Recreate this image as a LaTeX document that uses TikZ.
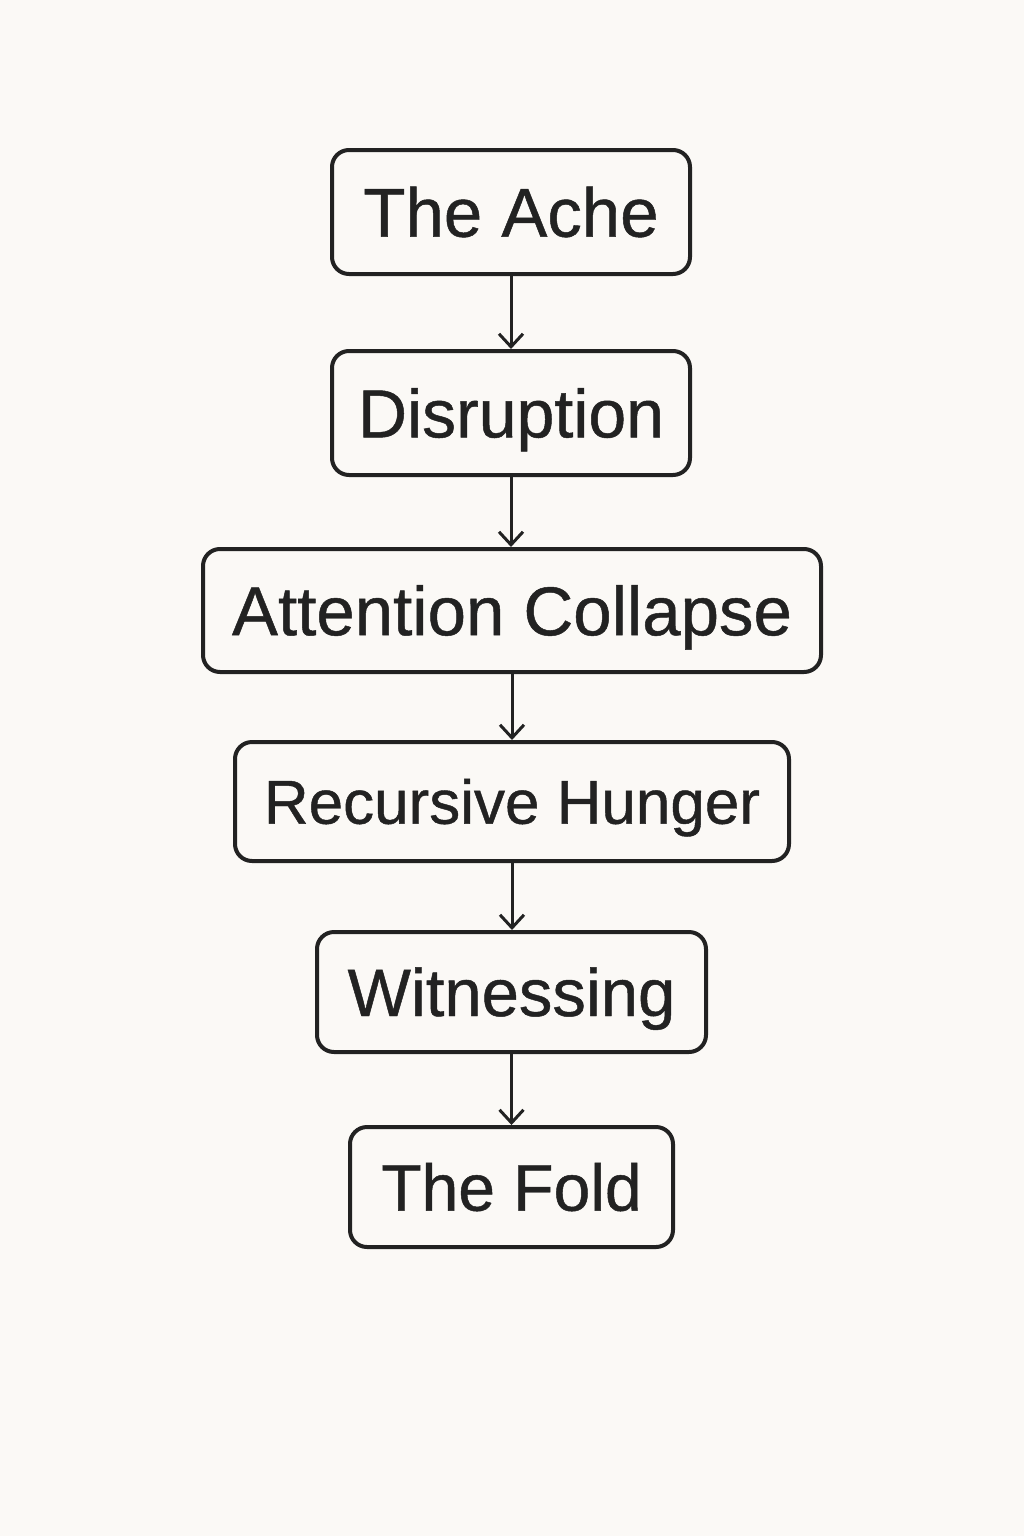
\documentclass[tikz,border=0pt]{standalone}
\usepackage{fontspec}
\setmainfont{Liberation Sans}
\newfontfamily\boxfont[FakeBold=0.7]{Liberation Sans}
\usetikzlibrary{arrows.meta}
\definecolor{bg}{HTML}{FBF9F6}
\definecolor{ink}{HTML}{222222}
\tikzset{
  box/.style={draw=ink, line width=4pt, rounded corners=17pt, fill=bg,
    text=ink, align=center, inner sep=0pt, text depth=0pt},
  flow/.style={draw=ink, line width=3pt,
    -{Straight Barb[length=13pt,width=24pt,line width=3pt]}}
}
\begin{document}
\begin{tikzpicture}[x=1pt,y=-1pt]
\fill[bg] (0,0) rectangle (1024,1536);
\useasboundingbox (0,0) rectangle (1024,1536);
\node[box, minimum width=358pt, minimum height=124pt, text height=49.4pt, font=\fontsize{69}{80}\selectfont\boxfont] (ache) at (511,212) {The Ache};
\node[box, minimum width=358pt, minimum height=124pt, text height=48.7pt, font=\fontsize{68}{80}\selectfont\boxfont] (dis) at (511,413) {Disruption};
\node[box, minimum width=618pt, minimum height=123pt, text height=49.4pt, font=\fontsize{69}{80}\selectfont\boxfont] (att) at (512,610.5) {Attention Collapse};
\node[box, minimum width=554pt, minimum height=119pt, text height=44.4pt, font=\fontsize{62}{74}\selectfont\boxfont] (rec) at (512,801.5) {Recursive Hunger};
\node[box, minimum width=389pt, minimum height=120pt, text height=48pt, font=\fontsize{67}{80}\selectfont\boxfont] (wit) at (511.5,992) {Witnessing};
\node[box, minimum width=323pt, minimum height=120pt, text height=47.3pt, font=\fontsize{66}{80}\selectfont\boxfont] (fold) at (511.5,1187) {The Fold};
\draw[flow] (ache.south) -- (dis.north);
\draw[flow] (dis.south) -- (dis.south |- att.north);
\draw[flow] (att.south) -- (att.south |- rec.north);
\draw[flow] (rec.south) -- (rec.south |- wit.north);
\draw[flow] (wit.south) -- (wit.south |- fold.north);
\end{tikzpicture}
\end{document}
